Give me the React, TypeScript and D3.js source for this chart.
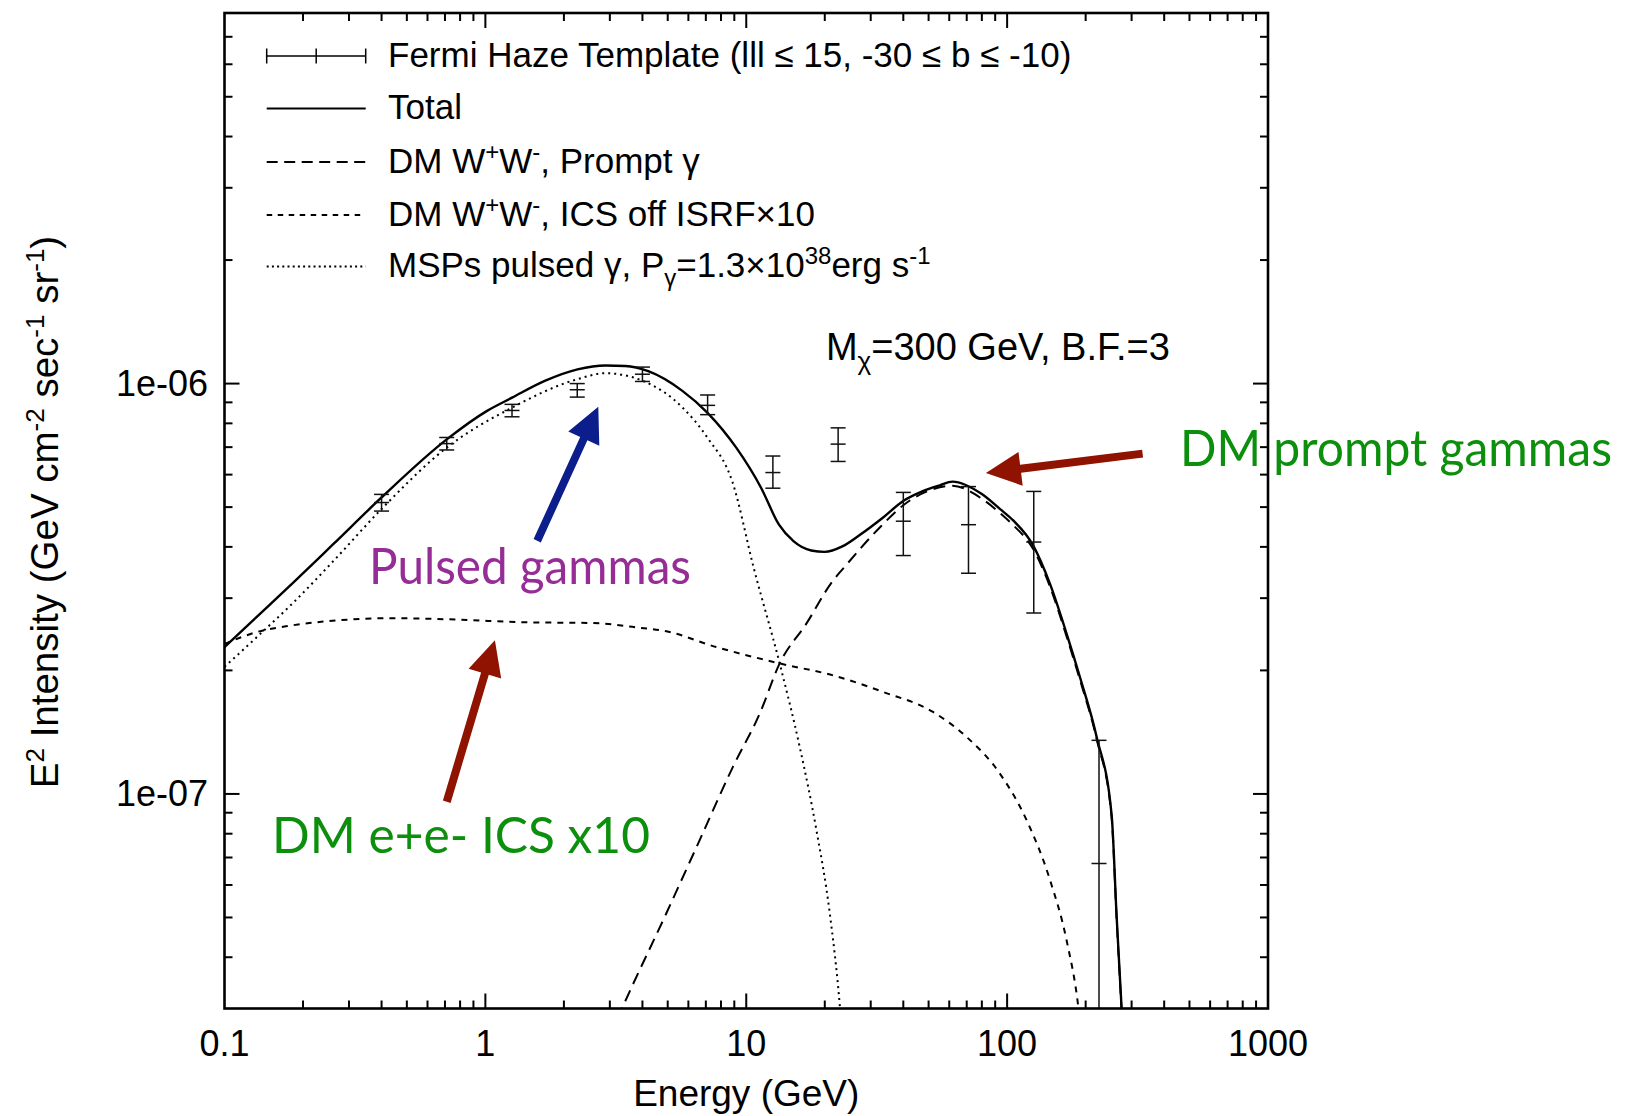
import React from "react";
import * as d3 from "d3";

// ---------- data ----------
const hazeE = [0.4, 0.711, 1.265, 2.25, 4.0, 7.11, 12.65, 22.5, 40.0, 71.1, 126.5, 225];
const hazeV = [5.13e-7, 7.14e-7, 8.6e-7, 9.66e-7, 1.054e-6, 8.85e-7, 6.07e-7, 7.12e-7, 4.62e-7, 4.53e-7, 4.11e-7, 6.77e-8];
const hazeHi = [5.37e-7, 7.39e-7, 8.9e-7, 1.0e-6, 1.097e-6, 9.38e-7, 6.66e-7, 7.8e-7, 5.43e-7, 5.61e-7, 5.46e-7, 1.351e-7];
const hazeLo = [4.89e-7, 6.89e-7, 8.3e-7, 9.27e-7, 1.012e-6, 8.4e-7, 5.56e-7, 6.46e-7, 3.81e-7, 3.45e-7, 2.76e-7, 1e-9];

const totalE = [0.1, 0.132, 0.186, 0.261, 0.399, 0.711, 1.015, 1.266, 1.689, 2.254, 2.89, 3.44, 4.21, 5.69, 7.09, 9.17, 11.42, 13.35, 15.17, 17.74, 19.98, 23.35, 27.3, 33.1, 40.1, 47.3, 55.2, 61.7, 80, 93.8, 105.5, 125.9, 146, 169, 190, 220.4, 251.6, 262.9, 274.7, 290];
const totalV = [2.28e-7, 2.69e-7, 3.3e-7, 4.06e-7, 5.27e-7, 7.31e-7, 8.58e-7, 9.24e-7, 1.015e-6, 1.083e-6, 1.107e-6, 1.104e-6, 1.072e-6, 9.6e-7, 8.5e-7, 6.97e-7, 5.56e-7, 4.53e-7, 4.13e-7, 3.92e-7, 3.89e-7, 4.01e-7, 4.28e-7, 4.69e-7, 5.18e-7, 5.46e-7, 5.65e-7, 5.77e-7, 5.38e-7, 4.95e-7, 4.64e-7, 4.03e-7, 3.25e-7, 2.46e-7, 1.93e-7, 1.377e-7, 8.87e-8, 5.02e-8, 3.0e-8, 1.5e-8];

const promptE = [3.0, 3.37, 4.94, 6.63, 8.89, 11.26, 13.43, 17.0, 21.5, 23.6, 32.5, 40.1, 52.0, 61.7, 80, 93.8, 105.5, 125.9, 146, 169, 190, 220.4, 251.6, 262.9, 274.7, 290];
const promptV = [2.57e-8, 3.04e-8, 5.12e-8, 7.72e-8, 1.164e-7, 1.569e-7, 2.08e-7, 2.6e-7, 3.31e-7, 3.55e-7, 4.46e-7, 5.06e-7, 5.53e-7, 5.64e-7, 5.24e-7, 4.84e-7, 4.52e-7, 3.95e-7, 3.2e-7, 2.42e-7, 1.9e-7, 1.36e-7, 8.75e-8, 4.95e-8, 2.95e-8, 1.5e-8];

const icsE = [0.1, 0.133, 0.178, 0.239, 0.431, 0.777, 1.4, 2.525, 3.93, 4.94, 7.68, 13.43, 21.5, 33.5, 52.0, 69.9, 93.8, 118.8, 146, 169, 187.3, 195];
const icsV = [2.32e-7, 2.48e-7, 2.57e-7, 2.63e-7, 2.68e-7, 2.66e-7, 2.62e-7, 2.61e-7, 2.54e-7, 2.49e-7, 2.28e-7, 2.08e-7, 1.945e-7, 1.772e-7, 1.584e-7, 1.377e-7, 1.121e-7, 8.63e-8, 6.17e-8, 4.4e-8, 3.04e-8, 2.4e-8];

const mspE = [0.1, 0.132, 0.186, 0.261, 0.399, 0.711, 1.266, 2.254, 2.88, 4.02, 5.69, 7.09, 8.85, 10.7, 13.43, 16.03, 18.58, 20.9, 22.84, 23.5];
const mspV = [2.04e-7, 2.4e-7, 2.95e-7, 3.69e-7, 4.94e-7, 6.98e-7, 8.74e-7, 1.025e-6, 1.06e-6, 1.015e-6, 8.75e-7, 7.39e-7, 5.76e-7, 3.54e-7, 2.08e-7, 1.302e-7, 8.16e-8, 5.12e-8, 3.04e-8, 2.4e-8];

const xMajor = [0.1, 1, 10, 100, 1000];
const xMajorLabels = ["0.1", "1", "10", "100", "1000"];
const yMajor = [1e-7, 1e-6];
const yMajorLabels = ["1e-07", "1e-06"];

// ---------- layout ----------
const W = 1627;
const H = 1116;
const L = 224.5, R = 1268, T = 13, B = 1008.5;
const FONT = "'Liberation Sans', Arial, Helvetica, sans-serif";
const AFONT = "Lato, 'Open Sans', sans-serif";
const PURPLE = "#962c96";
const GREEN = "#0c8f0c";
const DRED = "#8f1300";
const BLUE = "#0c1e8c";

const x = d3.scaleLog().domain([0.1, 1000]).range([L, R]);
const y = d3.scaleLog().domain([3e-8, 8e-6]).range([B, T]);

const lineGen = d3
  .line<[number, number]>()
  .x((d) => x(d[0]))
  .y((d) => y(d[1]))
  .curve(d3.curveMonotoneX);

const zip = (a: number[], b: number[]) => a.map((v, i) => [v, b[i]] as [number, number]);

function minorTicks(lo: number, hi: number) {
  const out: number[] = [];
  for (let e = Math.floor(Math.log10(lo)); e <= Math.ceil(Math.log10(hi)); e++) {
    for (let m = 2; m <= 9; m++) {
      const v = m * Math.pow(10, e);
      if (v > lo * 1.0001 && v < hi * 0.9999) out.push(v);
    }
  }
  return out;
}

function arrowPath(x1: number, y1: number, x2: number, y2: number, sw = 8, hw = 34, hl = 35) {
  const dx = x2 - x1, dy = y2 - y1;
  const len = Math.hypot(dx, dy);
  const ux = dx / len, uy = dy / len;
  const nx = -uy, ny = ux;
  const bx = x2 - ux * hl, by = y2 - uy * hl;
  const p = [
    [x1 + (nx * sw) / 2, y1 + (ny * sw) / 2],
    [bx + (nx * sw) / 2, by + (ny * sw) / 2],
    [bx + (nx * hw) / 2, by + (ny * hw) / 2],
    [x2, y2],
    [bx - (nx * hw) / 2, by - (ny * hw) / 2],
    [bx - (nx * sw) / 2, by - (ny * sw) / 2],
    [x1 - (nx * sw) / 2, y1 - (ny * sw) / 2],
  ];
  return "M" + p.map((q) => q[0].toFixed(1) + "," + q[1].toFixed(1)).join("L") + "Z";
}

export default function App() {
  const xMinor = minorTicks(0.1, 1000);
  const yMinor = minorTicks(3e-8, 8e-6);
  const majLen = 15, minLen = 8;

  const legendRows = [66.5, 119, 172.5, 225.5, 277];
  const lx1 = 266.7, lx2 = 365.7, tx = 388;

  const curveStyle = { fill: "none", stroke: "#000", strokeWidth: 2 };

  // annotation anchors in data space
  const blueA = [x(1.58), y(4.14e-7), x(2.71), y(8.78e-7)];
  const redA1 = [x(0.711), y(9.57e-8), x(1.088), y(2.37e-7)];
  const redA2 = [x(330.6), y(6.75e-7), x(82.9), y(6.05e-7)];

  return (
    <svg width={W} height={H} style={{ display: "block", position: "absolute", left: 0, top: 0, background: "#fff" }}>
      <defs>
        <clipPath id="plotclip">
          <rect x={L} y={T} width={R - L} height={B - T} />
        </clipPath>
      </defs>
      <rect x={0} y={0} width={W} height={H} fill="#fff" />

      {/* curves */}
      <g clipPath="url(#plotclip)">
        <path d={lineGen(zip(icsE, icsV)) || ""} {...curveStyle} strokeDasharray="6,6" />
        <path d={lineGen(zip(mspE, mspV)) || ""} {...curveStyle} strokeDasharray="2,4" />
        <path d={lineGen(zip(promptE, promptV)) || ""} {...curveStyle} strokeDasharray="12,7" />
        <path d={lineGen(zip(totalE, totalV)) || ""} {...curveStyle} strokeWidth={2.4} />
        {/* error bars */}
        {hazeE.map((e, i) => {
          const cx = x(e);
          const yc = y(hazeV[i]);
          const yh = y(hazeHi[i]);
          const yl = Math.min(y(hazeLo[i]), B + 20);
          const hw = 7.5;
          return (
            <g key={i} stroke="#111" strokeWidth={1.5}>
              <line x1={cx} x2={cx} y1={yh} y2={yl} />
              <line x1={cx - hw} x2={cx + hw} y1={yh} y2={yh} />
              <line x1={cx - hw} x2={cx + hw} y1={yl} y2={yl} />
              <line x1={cx - hw} x2={cx + hw} y1={yc} y2={yc} />
            </g>
          );
        })}
      </g>

      {/* frame + ticks */}
      <g stroke="#000" strokeWidth={2.6} fill="none">
        <rect x={L} y={T} width={R - L} height={B - T} />
      </g>
      <g stroke="#000" strokeWidth={2}>
        {xMajor.slice(1, -1).map((v) => (
          <g key={"xM" + v}>
            <line x1={x(v)} x2={x(v)} y1={B} y2={B - majLen} />
            <line x1={x(v)} x2={x(v)} y1={T} y2={T + majLen} />
          </g>
        ))}
        {xMinor.map((v) => (
          <g key={"xm" + v}>
            <line x1={x(v)} x2={x(v)} y1={B} y2={B - minLen} />
            <line x1={x(v)} x2={x(v)} y1={T} y2={T + minLen} />
          </g>
        ))}
        {yMajor.map((v) => (
          <g key={"yM" + v}>
            <line x1={L} x2={L + majLen} y1={y(v)} y2={y(v)} />
            <line x1={R} x2={R - majLen} y1={y(v)} y2={y(v)} />
          </g>
        ))}
        {yMinor.map((v) => (
          <g key={"ym" + v}>
            <line x1={L} x2={L + minLen} y1={y(v)} y2={y(v)} />
            <line x1={R} x2={R - minLen} y1={y(v)} y2={y(v)} />
          </g>
        ))}
      </g>

      {/* tick labels */}
      <g fontFamily={FONT} fontSize={36} fill="#000">
        {xMajor.map((v, i) => (
          <text key={"xl" + v} x={x(v)} y={1056} textAnchor="middle">
            {xMajorLabels[i]}
          </text>
        ))}
        {yMajor.map((v, i) => (
          <text key={"yl" + v} x={208} y={y(v) + 12.5} textAnchor="end">
            {yMajorLabels[i]}
          </text>
        ))}
        <text x={(L + R) / 2} y={1106} textAnchor="middle" fontSize={37}>
          Energy (GeV)
        </text>
        <text transform={`translate(58,512) rotate(-90)`} textAnchor="middle" fontSize={38.5}>
          E<tspan dy={-14} fontSize={26}>2</tspan>
          <tspan dy={14}> Intensity (GeV cm</tspan>
          <tspan dy={-14} fontSize={26}>-2</tspan>
          <tspan dy={14}> sec</tspan>
          <tspan dy={-14} fontSize={26}>-1</tspan>
          <tspan dy={14}> sr</tspan>
          <tspan dy={-14} fontSize={26}>-1</tspan>
          <tspan dy={14}>)</tspan>
        </text>
      </g>

      {/* legend */}
      <g fontFamily={FONT} fontSize={35} fill="#000">
        {/* row 1: error bar sample */}
        <g stroke="#000" strokeWidth={1.5}>
          <line x1={lx1} x2={lx2} y1={legendRows[0] - 10.5} y2={legendRows[0] - 10.5} />
          <line x1={lx1} x2={lx1} y1={legendRows[0] - 18} y2={legendRows[0] - 3} />
          <line x1={lx2} x2={lx2} y1={legendRows[0] - 18} y2={legendRows[0] - 3} />
          <line x1={(lx1 + lx2) / 2} x2={(lx1 + lx2) / 2} y1={legendRows[0] - 18} y2={legendRows[0] - 3} />
        </g>
        <text x={tx} y={legendRows[0]}>Fermi Haze Template (lll ≤ 15, -30 ≤ b ≤ -10)</text>

        <line x1={lx1} x2={lx2} y1={legendRows[1] - 10.5} y2={legendRows[1] - 10.5} stroke="#000" strokeWidth={2.2} />
        <text x={tx} y={legendRows[1]}>Total</text>

        <line x1={lx1} x2={lx2} y1={legendRows[2] - 10.5} y2={legendRows[2] - 10.5} stroke="#000" strokeWidth={2} strokeDasharray="11,6.5" />
        <text x={tx} y={legendRows[2]}>
          DM W<tspan dy={-13} fontSize={24}>+</tspan>
          <tspan dy={13}>W</tspan>
          <tspan dy={-13} fontSize={24}>-</tspan>
          <tspan dy={13}>, Prompt γ</tspan>
        </text>

        <line x1={lx1} x2={lx2} y1={legendRows[3] - 10.5} y2={legendRows[3] - 10.5} stroke="#000" strokeWidth={2} strokeDasharray="5.5,5.5" />
        <text x={tx} y={legendRows[3]}>
          DM W<tspan dy={-13} fontSize={24}>+</tspan>
          <tspan dy={13}>W</tspan>
          <tspan dy={-13} fontSize={24}>-</tspan>
          <tspan dy={13}>, ICS off ISRF×10</tspan>
        </text>

        <line x1={lx1} x2={lx2} y1={legendRows[4] - 10.5} y2={legendRows[4] - 10.5} stroke="#000" strokeWidth={2} strokeDasharray="2,3.2" />
        <text x={tx} y={legendRows[4]}>
          MSPs pulsed γ, P<tspan dy={9} fontSize={24}>γ</tspan>
          <tspan dy={-9}>=1.3×10</tspan>
          <tspan dy={-13} fontSize={24}>38</tspan>
          <tspan dy={13}>erg s</tspan>
          <tspan dy={-13} fontSize={24}>-1</tspan>
        </text>

        <text x={x(20.2)} y={y(1.14e-6)} fontSize={38}>
          M<tspan dy={10} fontSize={26}>χ</tspan>
          <tspan dy={-10}>=300 GeV, B.F.=3</tspan>
        </text>
      </g>

      {/* annotations */}
      <path d={arrowPath(blueA[0], blueA[1], blueA[2], blueA[3])} fill={BLUE} />
      <path d={arrowPath(redA1[0], redA1[1], redA1[2], redA1[3])} fill={DRED} />
      <path d={arrowPath(redA2[0], redA2[1], redA2[2], redA2[3])} fill={DRED} />
      <g fontFamily={AFONT} fontSize={50}>
        <text x={x(0.358)} y={y(3.25e-7)} fill={PURPLE} textLength={322} lengthAdjust="spacingAndGlyphs">
          Pulsed gammas
        </text>
        <text x={x(0.152)} y={y(7.16e-8)} fill={GREEN} textLength={378} lengthAdjust="spacingAndGlyphs">
          DM e+e- ICS x10
        </text>
        <text x={x(459.6)} y={y(6.3e-7)} fill={GREEN} textLength={432} lengthAdjust="spacingAndGlyphs">
          DM prompt gammas
        </text>
      </g>
    </svg>
  );
}
